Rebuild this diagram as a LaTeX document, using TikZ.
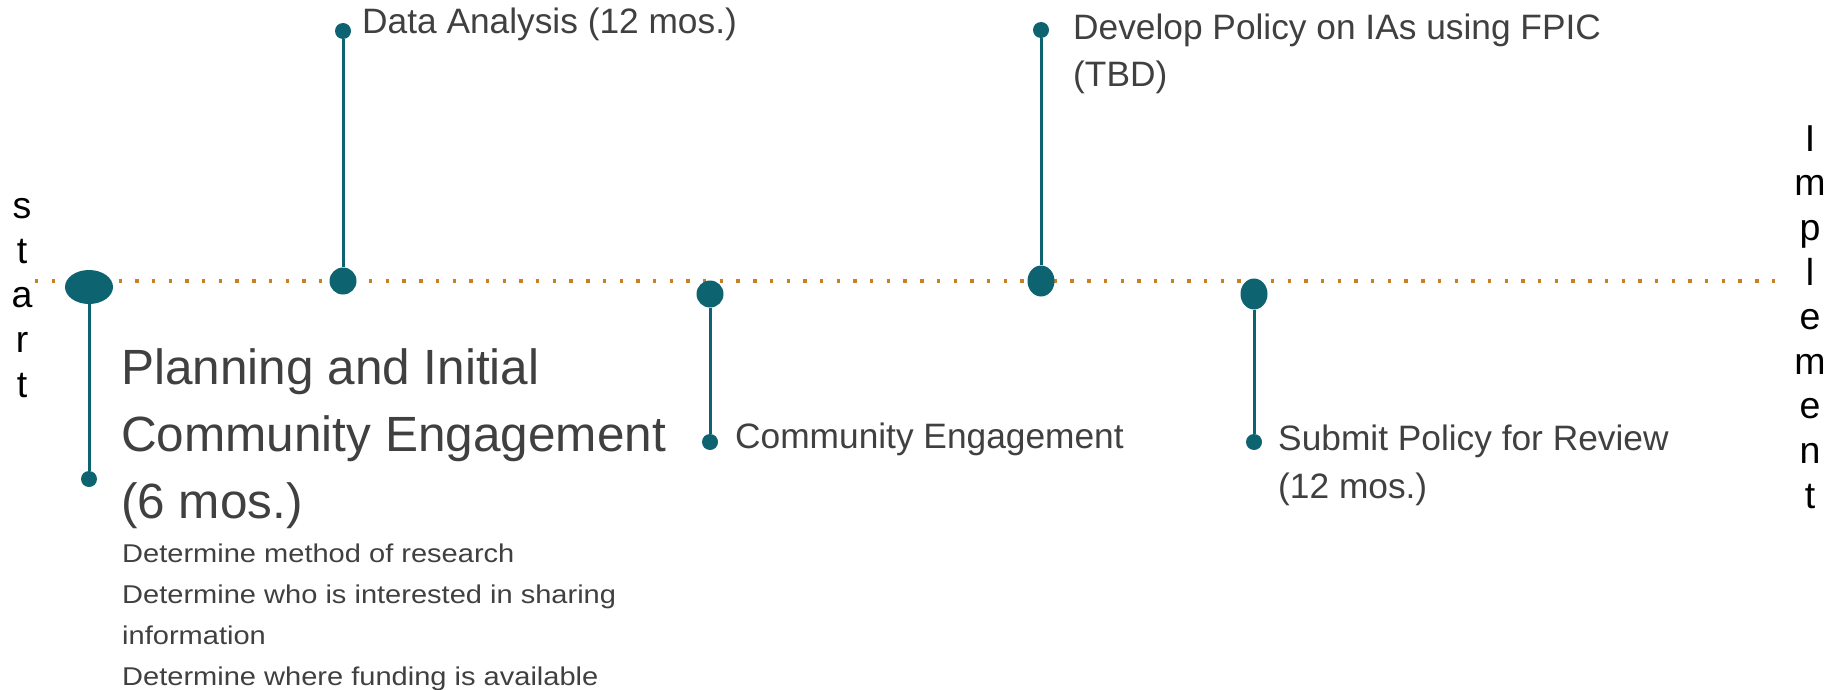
\documentclass[tikz,border=0pt]{standalone}
\usepackage{fontspec}
\setmainfont{Liberation Sans}
\newfontfamily\listfont[FakeStretch=1.13]{Liberation Sans}
\usetikzlibrary{shapes.geometric}
\definecolor{tealc}{RGB}{14,99,113}
\definecolor{orangec}{RGB}{200,128,32}
\definecolor{textc}{RGB}{64,64,64}
\begin{document}
\begin{tikzpicture}[x=1pt,y=-1pt,
  bigdot/.style={circle,fill=tealc,inner sep=0pt,minimum size=27pt},
  tallerdot/.style={ellipse,fill=tealc,inner sep=0pt,minimum width=27pt,minimum height=31pt},
  smalldot/.style={circle,fill=tealc,inner sep=0pt,minimum size=16pt},
  startdot/.style={ellipse,fill=tealc,inner sep=0pt,minimum width=48pt,minimum height=34pt},
  stem/.style={draw=tealc,line width=3pt},
  timeline/.style={draw=orangec,line width=3.4pt,dash pattern=on 3.4pt off 13.3pt},
  lbl/.style={anchor=base west,inner sep=0pt,text=textc,align=left,font=\fontsize{35.3}{47.5}\selectfont},
  title/.style={anchor=base west,inner sep=0pt,text=textc,align=left,font=\fontsize{49.5}{67}\selectfont},
  listtxt/.style={anchor=base west,inner sep=0pt,text=textc,align=left,font=\listfont\fontsize{25.7}{40.7}\selectfont},
  vert/.style={anchor=base,inner sep=0pt,text=black,align=center,font=\fontsize{37.5}{44.6}\selectfont}
]
\useasboundingbox (0,0) rectangle (1842,690);

% timeline
\coordinate (tl0) at (35,281);
\coordinate (tl1) at (1786,281);
\draw[timeline] (tl0) -- (tl1);

% start
\node[startdot] (s0) at (89,287) {};
\node[smalldot] (s1) at (89,479) {};
\draw[stem] (s0) -- (s1);

% data analysis
\node[bigdot] (a0) at (343,281) {};
\node[smalldot] (a1) at (343,31) {};
\draw[stem] (a0) -- (a1);

% community engagement
\node[bigdot] (c0) at (710,294) {};
\node[smalldot] (c1) at (710,442) {};
\draw[stem] (c0) -- (c1);

% develop policy
\node[tallerdot] (p0) at (1041,281) {};
\node[smalldot] (p1) at (1041,30) {};
\draw[stem] (p0) -- (p1);

% submit policy
\node[tallerdot] (r0) at (1254,294) {};
\node[smalldot] (r1) at (1254,442) {};
\draw[stem] (r0) -- (r1);

% labels (multi-line nodes are placed by the baseline of their last line)
\node[lbl] (la) at (362,34) {Data Analysis (12 mos.)};
\node[lbl] (lc) at (735,448) {Community Engagement};
\node[lbl] (lp) at (1073,87) {Develop Policy on IAs using FPIC\\(TBD)};
\node[lbl] (lr) at (1278,498) {Submit Policy for Review\\(12 mos.)};
\node[title] (lt) at (121,518) {Planning and Initial\\Community Engagement\\(6 mos.)};
\node[listtxt] (ll) at (122,685) {Determine method of research\\Determine who is interested in sharing\\information\\Determine where funding is available};

% vertical words
\node[vert] (vs) at (22,397) {s\\t\\a\\r\\t};
\node[vert] (vi) at (1810,508) {I\\m\\p\\l\\e\\m\\e\\n\\t};
\end{tikzpicture}
\end{document}
